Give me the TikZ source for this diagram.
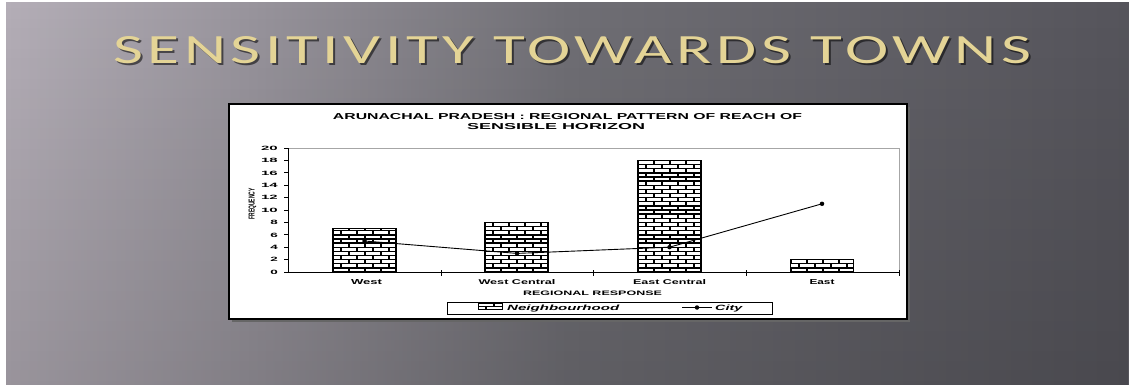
\documentclass[tikz,border=0pt]{standalone}
\usepackage{fontspec}
\usepackage{graphicx}
\usetikzlibrary{fadings}
\setmainfont{Liberation Sans}
\newfontfamily\titlefont[LetterSpace=7]{Carlito}
\definecolor{bgA}{RGB}{180,174,183}
\definecolor{bgB}{RGB}{152,148,156}
\definecolor{bgC}{RGB}{112,111,117}
\definecolor{bgD}{RGB}{86,85,92}
\definecolor{gold}{RGB}{228,212,150}
\pgfdeclarehorizontalshading{slidebg}{100bp}{color(0bp)=(bgA); color(25bp)=(bgA); color(36bp)=(bgB); color(50bp)=(bgC); color(75bp)=(bgD); color(100bp)=(bgD)}
\newcommand\fitt[3]{\resizebox{#1pt}{#2pt}{#3}}
\newcommand\brickbar[3]{%
  \begin{scope}
    \clip (#1,#3) rectangle (#2,272);
    \fill[white] (#1,#3) rectangle (#2,272);
    \foreach \i in {0,...,30} {
      \pgfmathsetmacro\yy{272-\i*4.133}
      \pgfmathsetmacro\off{mod(\i,2)*8}
      \draw[mortar] (#1,\yy) -- (#2,\yy);
      \foreach \k in {0,...,5} {\draw[joint] ({#1+\off+\k*16},\yy) -- ++(0,-4.133);}
    }
  \end{scope}
  \draw[barframe] (#1,#3) rectangle (#2,272);
}
\begin{document}
\begin{tikzpicture}[x=1pt,y=-1pt,
  mortar/.style={black,line width=1.4pt},
  joint/.style={black,line width=2pt},
  barframe/.style={black,line width=1.4pt},
  axisline/.style={black,line width=0.9pt},
  ticks/.style={black,line width=0.8pt},
  citydot/.style={circle,fill=black,inner sep=0pt,minimum size=4.5pt},
  lbl/.style={inner sep=0pt,font=\bfseries},
  ilbl/.style={inner sep=0pt,font=\bfseries\itshape},
  ylab/.style={inner sep=0pt,anchor=base east,font=\bfseries}]
\useasboundingbox (0,0) rectangle (1129,385);
\fill[white] (0,0) rectangle (1129,385);
\shade[shading=slidebg] (6,3) rectangle (1129,385);
\fill[black,opacity=0.15,path fading=north] (6,3) rectangle (1129,385);
% slide title
\node[inner sep=0pt,anchor=base west,text=black,opacity=0.55] at (115,66) {\fitt{918}{27}{\titlefont SENSITIVITY TOWARDS TOWNS}};
\node[inner sep=0pt,anchor=base west,text=gold] (title) at (113,64) {\fitt{918}{27}{\titlefont SENSITIVITY TOWARDS TOWNS}};
% chart box
\fill[black!60] (232,107) rectangle (910,322);
\draw[draw=black,fill=white,line width=1.2pt] (229,104) rectangle (907,319);
\node[lbl,anchor=base] (ct1) at (567.5,120) {\fitt{469}{6}{ARUNACHAL PRADESH : REGIONAL PATTERN OF REACH OF}};
\node[lbl,anchor=base] (ct2) at (556,129.5) {\fitt{178}{6}{SENSIBLE HORIZON}};
% plot area
\draw[black!35,line width=0.6pt] (288,148) rectangle (899,272);
\brickbar{333}{396}{228.6}
\brickbar{485}{548}{222.4}
\brickbar{638}{701}{160.4}
\brickbar{790.5}{853.5}{259.6}
\draw[axisline] (288,148) -- (288,272);
\draw[axisline] (288,272) -- (899,272);
\foreach \v in {0,2,...,20} {\draw[ticks] (284,{272-\v*6.2}) -- (288,{272-\v*6.2});}
\foreach \v in {0,2,4,6,8} {\node[ylab] at (278,{274.2-\v*6.2}) {\fitt{7.5}{4.3}{\v}};}
\foreach \v in {10,12,...,20} {\node[ylab] at (278,{274.2-\v*6.2}) {\fitt{16.7}{4.3}{\v}};}
\foreach \x in {441,593,746,899} {\draw[ticks] (\x,270) -- (\x,276);}
\node[lbl,rotate=90] (freq) at (252.5,204) {\fitt{31}{6}{FREQUENCY}};
% city line
\coordinate (c1) at (364.5,241);
\coordinate (c2) at (517,253.4);
\coordinate (c3) at (669.5,247.2);
\coordinate (c4) at (822,203.8);
\draw[black,line width=0.9pt] (c1) -- (c2) -- (c3) -- (c4);
\foreach \c in {c1,c2,c3,c4} {\node[citydot] at (\c) {};}
% x labels
\node[lbl,anchor=base] (xw) at (366.5,284.5) {\fitt{31}{5}{West}};
\node[lbl,anchor=base] (xwc) at (517,284.5) {\fitt{77}{5}{West Central}};
\node[lbl,anchor=base] (xec) at (669.5,284.5) {\fitt{73}{5}{East Central}};
\node[lbl,anchor=base] (xe) at (822,284.5) {\fitt{25}{5}{East}};
\node[lbl,anchor=base] (xt) at (592.5,295.5) {\fitt{139}{4.5}{REGIONAL RESPONSE}};
% legend
\draw[draw=black,fill=white,line width=0.8pt] (447,302) rectangle (772,314);
\begin{scope}
  \clip (478,303.5) rectangle (502,309.5);
  \fill[white] (478,303.5) rectangle (502,309.5);
  \draw[black,line width=1pt] (478,306.5) -- (502,306.5);
  \draw[black,line width=1.4pt] (486,306.5) -- (486,309.5) (494,303.5) -- (494,306.5);
\end{scope}
\draw[black,line width=0.9pt] (478,303.5) rectangle (502,309.5);
\node[ilbl,anchor=base west] (ln) at (507,310) {\fitt{112}{5.5}{Neighbourhood}};
\coordinate (ls1) at (682,307.5);
\coordinate (ls2) at (712,307.5);
\draw[black,line width=0.9pt] (ls1) -- (ls2);
\node[citydot] at (697,307.5) {};
\node[ilbl,anchor=base west] (lc) at (715,310) {\fitt{27}{5.5}{City}};
\end{tikzpicture}
\end{document}
